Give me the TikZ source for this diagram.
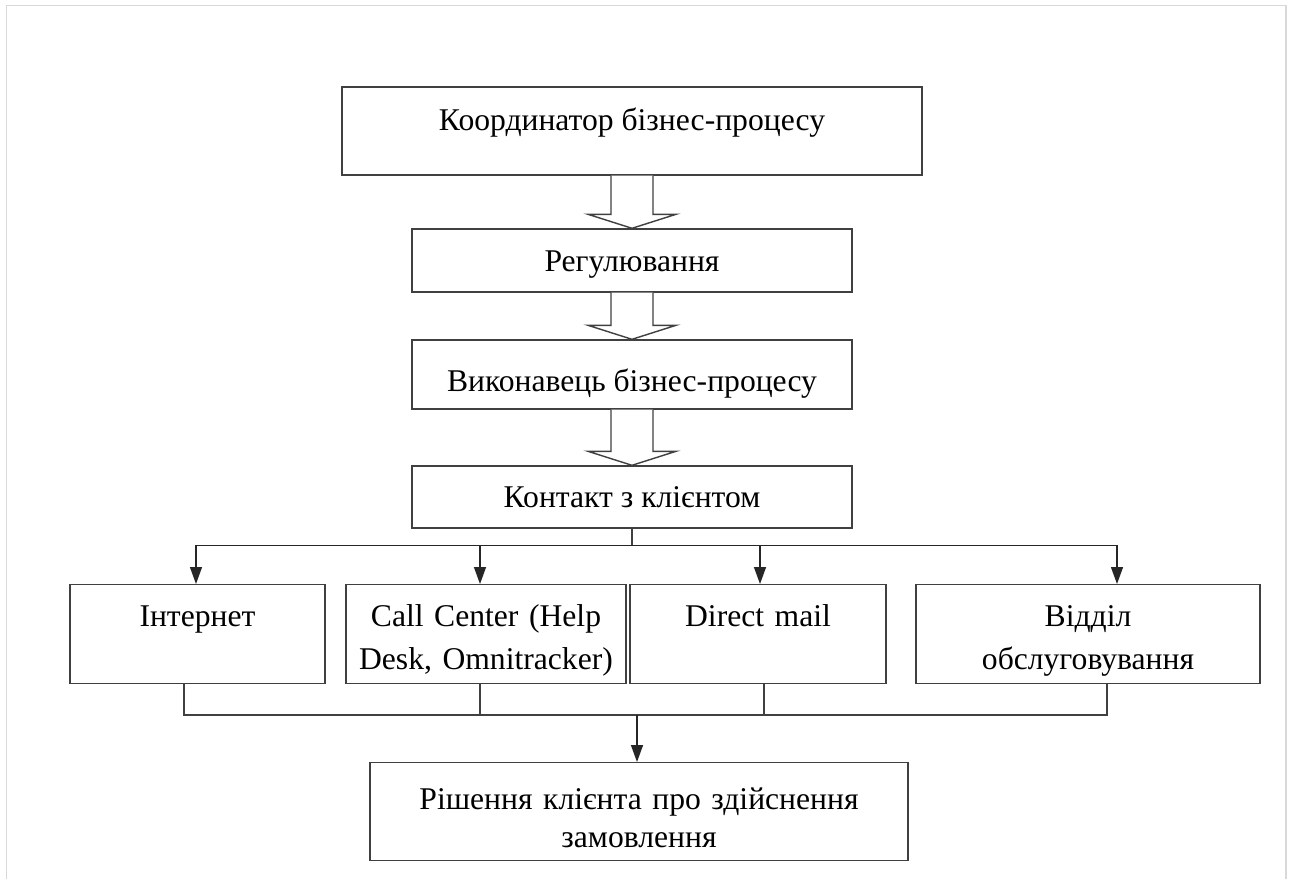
\documentclass[tikz,border=0pt]{standalone}
\usepackage{fontspec}
\setmainfont{Liberation Serif}
\usetikzlibrary{arrows.meta, positioning, calc}

\begin{document}
\begin{tikzpicture}[x=0.02cm, y=-0.02cm,
    box/.style={rectangle, draw=black!75, line width=0.8pt, align=center, inner sep=0pt, font=\fontsize{18}{24.4}\selectfont},
    rowbox/.style={box, text height=0.83cm, text depth=1.15cm},
    arr/.style={draw=black!85, line width=0.8pt, -{Triangle[length=0.34cm, width=0.24cm]}},
    link/.style={draw=black!75, line width=0.8pt},
    hollow/.style={draw=black!75, line width=0.8pt, fill=white}]
    \useasboundingbox (0, 0) rectangle (1291, 879);
    % page frame
    \draw[black!15, line width=0.8pt] (6.5, 879) -- (6.5, 5.5) -- (1286, 5.5) -- (1286, 879);

    \node[box, minimum width=11.6cm, text height=0.86cm, text depth=0.9cm] (coordinator) at (632, 131) {Координатор бізнес-процесу};
    \node[box, minimum width=8.8cm, text height=0.85cm, text depth=0.41cm] (regulation) at (632, 260.5) {Регулювання};
    \node[box, minimum width=8.8cm, text height=1.02cm, text depth=0.36cm] (performer) at (632, 374.5) {Виконавець бізнес-процесу};
    \node[box, minimum width=8.8cm, text height=0.82cm, text depth=0.42cm] (contact) at (632, 497) {Контакт з клієнтом};

    % hollow arrows between the upper boxes
    \foreach \a/\b in {coordinator/regulation, regulation/performer, performer/contact} {
        \draw[hollow] ($(\a.south)+(-21, 0)$) -- ($(\b.north)+(-21, -14)$) -- ($(\b.north)+(-44, -14)$)
            -- (\b.north) -- ($(\b.north)+(44, -14)$) -- ($(\b.north)+(21, -14)$) -- ($(\a.south)+(21, 0)$);
    }

    \node[rowbox, text width=5.1cm, anchor=north] (internet) at (197.5, 584) {Інтернет};
    \node[rowbox, text width=5.6cm, anchor=north] (callcenter) at (486, 584) {Call Center (Help\\Desk, Omnitracker)};
    \node[rowbox, text width=5.12cm, anchor=north] (directmail) at (758, 584) {Direct mail};
    \node[rowbox, text width=6.88cm, anchor=north] (service) at (1088, 584) {Відділ\\обслуговування};

    \node[box, text width=10.76cm, anchor=north, text height=0.94cm, text depth=1.02cm, font=\fontsize{18}{21.5}\selectfont] (decision) at (639, 762) {Рішення клієнта про здійснення\\замовлення};

    % fan out to the channels
    \coordinate (split) at ($(contact.south)+(0, 17)$);
    \draw[link] (contact.south) -- (split);
    \draw[arr] (split) -| ($(internet.north)+(-1.5, 0)$);
    \draw[arr] (split) -| ($(callcenter.north)+(-6, 0)$);
    \draw[arr] (split) -| ($(directmail.north)+(2, 0)$);
    \draw[arr] (split) -| ($(service.north)+(29, 0)$);

    % gather into the decision
    \coordinate (merge) at (637, 715);
    \draw[link] ($(internet.south)+(-13.5, 0)$) |- (merge);
    \draw[link] ($(callcenter.south)+(-6, 0)$) |- (merge);
    \draw[link] ($(directmail.south)+(6, 0)$) |- (merge);
    \draw[link] ($(service.south)+(19, 0)$) |- (merge);
    \draw[arr] (merge) -- (merge |- decision.north);
\end{tikzpicture}
\end{document}
